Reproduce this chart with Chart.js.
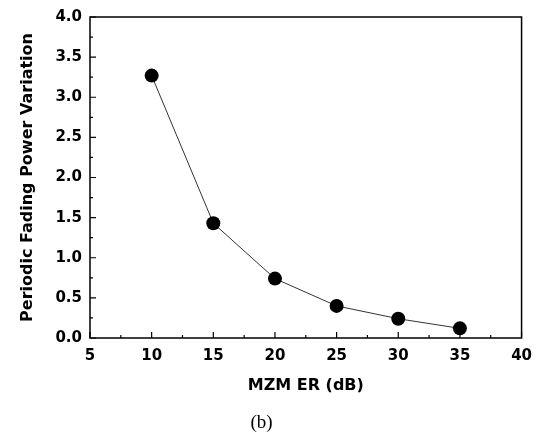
<!DOCTYPE html>
<html>
<head>
<meta charset="utf-8">
<script src="https://cdn.jsdelivr.net/npm/chart.js@4.4.0/dist/chart.umd.min.js"></script>
<style>
  html, body { margin: 0; padding: 0; background: #fff; }
  #wrap { width: 541px; height: 438px; }
</style>
</head>
<body>
<div id="wrap"><canvas id="graph" width="541" height="438"></canvas></div>
<script>
const erValues = [10, 15, 20, 25, 30, 35];
const fadingVariation = [3.27, 1.43, 0.74, 0.40, 0.24, 0.12];
const xTicks = [5, 10, 15, 20, 25, 30, 35, 40];
const yTicks = [0, 0.5, 1.0, 1.5, 2.0, 2.5, 3.0, 3.5, 4.0];

const ctx = document.getElementById('graph').getContext('2d');

// box around plot + inward major/minor ticks
const frame = {
  id: 'frame',
  afterDraw(chart) {
    const c = chart.ctx;
    const a = chart.chartArea;
    const xs = chart.scales.x, ys = chart.scales.y;
    c.save();
    c.strokeStyle = '#000';
    c.lineWidth = 1.5;
    c.strokeRect(a.left, a.top, a.right - a.left, a.bottom - a.top);
    c.lineWidth = 1.2;
    c.beginPath();
    for (let i = 0; i < xTicks.length; i++) {
      let px = xs.getPixelForValue(xTicks[i]);
      c.moveTo(px, a.bottom); c.lineTo(px, a.bottom - 6);
      if (i < xTicks.length - 1) {
        let mx = xs.getPixelForValue(xTicks[i] + 2.5);
        c.moveTo(mx, a.bottom); c.lineTo(mx, a.bottom - 3);
      }
    }
    for (let i = 0; i < yTicks.length; i++) {
      let py = ys.getPixelForValue(yTicks[i]);
      c.moveTo(a.left, py); c.lineTo(a.left + 6, py);
      if (i < yTicks.length - 1) {
        let my = ys.getPixelForValue(yTicks[i] + 0.25);
        c.moveTo(a.left, my); c.lineTo(a.left + 3, my);
      }
    }
    c.stroke();
    c.restore();
  }
};

let data = {
  datasets: [{
    data: erValues.map((x, i) => ({ x: x, y: fadingVariation[i] })),
    showLine: true,
    borderColor: '#333',
    borderWidth: 1,
    tension: 0,
    pointRadius: 7,
    pointBackgroundColor: '#000',
    pointBorderColor: '#000',
    pointBorderWidth: 0
  }]
};

const tickFont = { family: 'DejaVu Sans, sans-serif', size: 15, weight: 'bold' };
const titleFont = { family: 'DejaVu Sans, sans-serif', size: 16, weight: 'bold' };

let config = {
  type: 'scatter',
  data: data,
  options: {
    responsive: false,
    animation: false,
    layout: { padding: { left: 0, right: 18, top: 17, bottom: 0 } },
    plugins: {
      legend: { display: false },
      tooltip: { enabled: false },
      title: {
        display: true,
        position: 'bottom',
        text: '(b)',
        color: '#000',
        font: { family: 'Liberation Serif, Times New Roman, serif', size: 19, weight: 'normal' },
        padding: { top: 16, bottom: 4 }
      }
    },
    scales: {
      x: {
        type: 'linear',
        min: 5, max: 40,
        afterBuildTicks: (s) => { s.ticks = xTicks.map(v => ({ value: v })); },
        grid: { display: false, drawTicks: false },
        border: { display: false },
        ticks: { color: '#000', font: tickFont, padding: 9, maxRotation: 0 },
        title: { display: true, text: 'MZM ER (dB)', color: '#000', font: titleFont, padding: { top: 2, bottom: 0 } }
      },
      y: {
        type: 'linear',
        min: 0, max: 4,
        afterBuildTicks: (s) => { s.ticks = yTicks.map(v => ({ value: v })); },
        afterFit: (s) => { s.width = 90; },
        grid: { display: false, drawTicks: false },
        border: { display: false },
        ticks: { color: '#000', font: tickFont, padding: 8, callback: v => v.toFixed(1) },
        title: { display: true, text: 'Periodic Fading Power Variation', color: '#000', font: titleFont, padding: { top: 18, bottom: 0 } }
      }
    }
  },
  plugins: [frame]
};

let chart = new Chart(ctx, config);
</script>
</body>
</html>
